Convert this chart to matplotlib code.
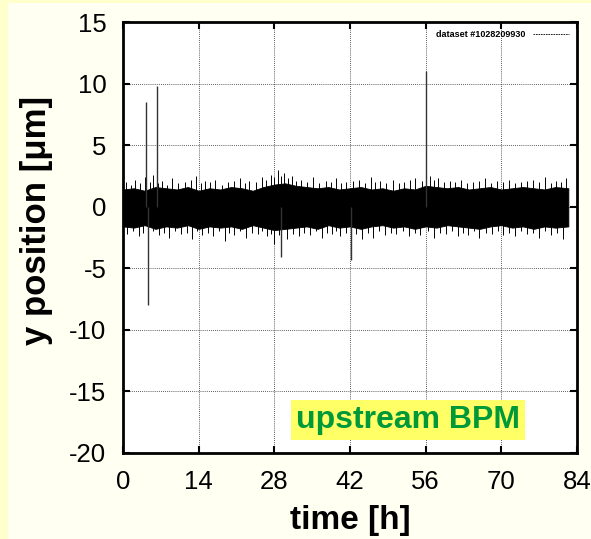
import matplotlib
matplotlib.use("Agg")
import matplotlib.pyplot as plt
from matplotlib.lines import Line2D
from matplotlib.patches import Rectangle

plt.rcParams['font.family'] = ['Liberation Sans', 'DejaVu Sans']
plt.rcParams['axes.unicode_minus'] = False

# envelope of the dense noise band (time in h, position in um)
t_env = [0, 2, 4, 6, 8, 10, 12, 14, 16, 18, 20, 22, 24, 26, 28, 30, 32, 34, 36, 38,
         40, 42, 44, 46, 48, 50, 52, 54, 56, 58, 60, 62, 64, 66, 68, 70, 72, 74, 76, 78,
         80, 82.4]
band_hi = [1.4, 1.5, 1.3, 1.6, 1.5, 1.4, 1.6, 1.3, 1.5, 1.4, 1.6, 1.5, 1.3, 1.6, 1.8, 1.9,
           1.7, 1.6, 1.5, 1.6, 1.4, 1.5, 1.6, 1.4, 1.5, 1.3, 1.5, 1.4, 1.7, 1.6, 1.5, 1.6,
           1.4, 1.5, 1.6, 1.4, 1.5, 1.6, 1.5, 1.4, 1.6, 1.5]
band_lo = [-1.6, -1.7, -1.5, -1.8, -1.6, -1.7, -1.5, -1.8, -1.6, -1.7, -1.6, -1.8, -1.5,
           -1.7, -1.9, -1.8, -1.7, -1.6, -1.8, -1.5, -1.7, -1.6, -1.8, -1.6, -1.5, -1.7,
           -1.6, -1.8, -1.6, -1.7, -1.5, -1.6, -1.7, -1.8, -1.6, -1.5, -1.7, -1.6, -1.8,
           -1.6, -1.7, -1.6]

# small excursions sticking out of the band
fuzz_up_t = [0.5, 1.4, 2.3, 3.2, 4.0, 5.0, 5.5, 6.5, 7.2, 8.1, 9.0, 10.2, 11.4, 12.5, 13.5,
             14.4, 15.2, 16.1, 17.0, 18.3, 19.5, 20.6, 21.6, 22.5, 23.4, 24.6, 25.8, 26.5,
             27.3, 28.0, 28.6, 29.2, 29.8, 30.5, 31.2, 32.1, 33.0, 34.0, 35.1, 36.3, 37.5,
             38.4, 39.4, 40.3, 41.3, 42.5, 43.6, 44.7, 45.8, 46.6, 47.5, 48.7, 49.9, 51.0,
             52.0, 53.1, 54.1, 55.3, 56.8, 57.5, 58.3, 59.4, 60.5, 61.5, 62.6, 63.6, 64.7,
             65.8, 67.0, 68.1, 69.2, 70.3, 71.4, 72.5, 73.7, 74.8, 75.9, 77.0, 78.1, 79.2,
             80.2, 81.1, 82.0]
fuzz_up_v = [2.0, 1.8, 2.2, 1.9, 2.4, 2.0, 2.6, 1.9, 2.1, 1.8, 2.3, 1.9, 2.0, 2.2, 2.5,
             1.9, 2.1, 2.0, 2.2, 1.8, 2.0, 2.1, 2.3, 1.9, 2.1, 2.0, 2.4, 2.2, 2.6, 2.4, 3.0,
             2.5, 2.7, 2.3, 2.5, 2.1, 2.2, 2.0, 2.4, 1.9, 2.1, 2.0, 2.3, 1.9, 2.0, 2.1, 2.2,
             1.9, 2.4, 2.0, 2.1, 1.9, 2.2, 1.9, 2.0, 2.2, 2.3, 2.1, 2.5, 2.2, 2.3, 2.0, 2.1,
             2.0, 2.2, 1.9, 2.0, 2.1, 2.3, 1.9, 2.1, 2.0, 2.2, 1.9, 2.0, 2.1, 2.2, 2.0, 2.4,
             1.9, 2.1, 2.0, 2.3]
fuzz_dn_t = [0.8, 1.9, 2.9, 3.7, 5.6, 6.6, 7.6, 8.6, 9.7, 10.7, 11.8, 12.8, 13.7, 14.6,
             15.7, 16.7, 17.8, 18.9, 19.7, 20.5, 21.7, 22.8, 23.9, 24.9, 25.8, 26.6, 27.3,
             27.9, 28.8, 30.4, 31.5, 32.5, 33.5, 34.6, 35.7, 36.8, 37.7, 38.7, 39.5, 40.2,
             41.2, 43.2, 44.3, 45.3, 46.3, 47.4, 48.4, 49.5, 50.6, 51.8, 52.9, 54.0, 55.0,
             56.4, 57.6, 58.7, 59.8, 60.9, 61.9, 62.9, 63.8, 64.9, 65.9, 67.1, 68.3, 69.3,
             70.3, 71.4, 72.5, 73.7, 74.8, 75.9, 77.0, 78.1, 79.2, 80.3, 81.5]
fuzz_dn_v = [-2.2, -2.0, -2.4, -2.1, -2.0, -2.3, -2.1, -2.5, -2.0, -2.2, -2.1, -2.6, -2.0,
             -2.3, -2.1, -2.4, -2.0, -2.8, -2.1, -2.3, -2.0, -2.5, -2.1, -2.2, -2.0, -2.4,
             -2.2, -3.0, -2.3, -2.6, -2.2, -2.4, -2.1, -2.3, -2.0, -2.5, -2.1, -2.2, -2.0,
             -2.4, -2.1, -2.2, -2.6, -2.1, -2.5, -2.0, -2.3, -2.1, -2.2, -2.0, -2.4, -2.1,
             -2.3, -2.0, -2.5, -2.1, -2.2, -2.0, -2.4, -2.1, -2.3, -2.0, -2.5, -2.1, -2.2,
             -2.0, -2.3, -2.1, -2.4, -2.0, -2.2, -2.1, -2.5, -2.0, -2.3, -2.1, -2.6]

# large single spikes
spike_t = [4.25, 4.7, 6.2, 29.2, 42.2, 56.1]
spike_v = [8.5, -8.0, 9.8, -4.1, -4.3, 11.0]

x_ticks = [0, 14, 28, 42, 56, 70, 84]
y_ticks = [15, 10, 5, 0, -5, -10, -15, -20]

fig = plt.figure(figsize=(5.91, 5.39), dpi=100, facecolor='#FFFFF2')
# pale yellow strips on the left and top edge of the slide
fig.patches.append(Rectangle((0, 0), 8 / 591, 1, transform=fig.transFigure,
                             facecolor='#FFFFCC', edgecolor='none', zorder=0))
fig.patches.append(Rectangle((0, 1 - 3 / 539), 1, 3 / 539, transform=fig.transFigure,
                             facecolor='#FFFFCC', edgecolor='none', zorder=0))

ax = fig.add_axes([123 / 591, 86 / 539, 454 / 591, 431 / 539])
ax.set_facecolor('white')

ax.fill_between(t_env, band_lo, band_hi, color='black', lw=0.6,
                edgecolor='black', zorder=3)
ax.vlines(fuzz_up_t, 0, fuzz_up_v, color='black', lw=0.7, zorder=3)
ax.vlines(fuzz_dn_t, fuzz_dn_v, 0, color='black', lw=0.7, zorder=3)
ax.vlines(spike_t, 0, spike_v, color='#333333', lw=1.0, zorder=3)

ax.set_xlim(0, 84)
ax.set_ylim(-20, 15)
ax.set_xticks(x_ticks)
ax.set_yticks(y_ticks)
ax.tick_params(direction='in', length=5, width=1.5, top=True, right=True,
               labelsize=18.5)
ax.tick_params(axis='y', pad=12)
ax.tick_params(axis='x', pad=12)
for s in ax.spines.values():
    s.set_linewidth(2)
ax.grid(True, color='black', linestyle=(0, (1, 1.5)), linewidth=0.6, alpha=0.85)
ax.set_axisbelow(True)

ax.set_xlabel('time [h]', fontsize=24, fontweight='bold', labelpad=8)
ax.set_ylabel('y position [μm]', fontsize=25, fontweight='bold')
ax.yaxis.set_label_coords(-0.154, 0.54)

h = Line2D([], [], color='black', lw=0.6, linestyle=(0, (2, 1)))
ax.legend([h], ['dataset #1028209930'], loc='upper right', frameon=False,
          prop=dict(size=6.5, weight='bold'), markerfirst=False, handlelength=4,
          borderaxespad=0.5)

ax.text(0.628, 0.077, 'upstream BPM', transform=ax.transAxes, ha='center',
        va='center', fontsize=23, fontweight='bold', color='#00993A', zorder=5,
        bbox=dict(boxstyle='square,pad=0.15', facecolor='#FFFF66', edgecolor='none'))

fig.savefig('out.png', dpi=100, facecolor=fig.get_facecolor())
